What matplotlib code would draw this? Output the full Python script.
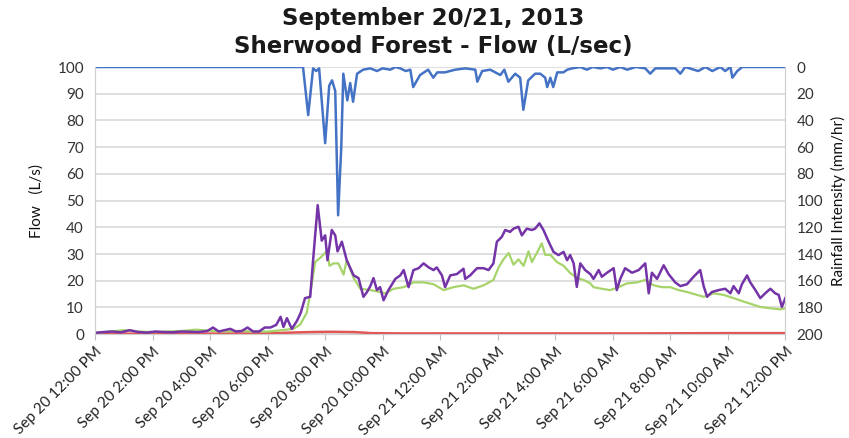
import matplotlib
matplotlib.use("Agg")
import matplotlib.pyplot as plt
import numpy as np

plt.rcParams.update({"font.family": "Lato", "font.size": 11})

# hours after Sep 20 12:00 PM
tick_hours = list(range(0, 25, 2))
tick_labels = ["Sep 20 12:00 PM", "Sep 20 2:00 PM", "Sep 20 4:00 PM", "Sep 20 6:00 PM",
               "Sep 20 8:00 PM", "Sep 20 10:00 PM", "Sep 21 12:00 AM", "Sep 21 2:00 AM",
               "Sep 21 4:00 AM", "Sep 21 6:00 AM", "Sep 21 8:00 AM", "Sep 21 10:00 AM",
               "Sep 21 12:00 PM"]

# purple flow series (L/s)
t_purple = [0, 0.3, 0.6, 0.9, 1.2, 1.5, 1.8, 2.1, 2.4, 2.7, 3.0, 3.3, 3.6, 3.9, 4.1, 4.3,
            4.5, 4.7, 4.9, 5.1, 5.3, 5.5, 5.7, 5.9, 6.1, 6.3, 6.45, 6.55, 6.67, 6.84, 7.02,
            7.15, 7.30, 7.48, 7.59, 7.74, 7.88, 8.0, 8.08, 8.23, 8.35, 8.43, 8.58, 8.75,
            8.99, 9.16, 9.33, 9.45, 9.57, 9.68, 9.80, 9.91, 10.03, 10.20, 10.44, 10.61,
            10.73, 10.90, 11.07, 11.25, 11.42, 11.60, 11.77, 11.88, 12.06, 12.17, 12.35,
            12.58, 12.81, 12.87, 13.04, 13.28, 13.51, 13.68, 13.85, 13.97, 14.14, 14.26,
            14.43, 14.55, 14.72, 14.84, 15.01, 15.19, 15.30, 15.45, 15.59, 15.77, 15.94,
            16.11, 16.29, 16.41, 16.52, 16.64, 16.75, 16.87, 17.04, 17.22, 17.33, 17.51,
            17.62, 17.80, 18.03, 18.14, 18.26, 18.43, 18.67, 18.90, 19.13, 19.25, 19.36,
            19.54, 19.77, 19.94, 20.17, 20.35, 20.58, 20.81, 21.04, 21.16, 21.28, 21.45,
            21.68, 21.91, 22.09, 22.20, 22.38, 22.49, 22.67, 22.78, 22.96, 23.13, 23.30,
            23.48, 23.65, 23.77, 23.88, 24.0]
v_purple = [0.5, 0.8, 1.0, 0.7, 1.5, 0.8, 0.6, 1.0, 0.8, 0.7, 1.0, 0.9, 0.8, 1.2, 2.5, 1.0,
            1.5, 2.0, 1.0, 1.2, 2.5, 1.0, 1.0, 2.5, 2.5, 3.5, 6.5, 2.7, 6.0, 2.0, 5.0,
            8.0, 13.5, 14.0, 29.0, 48.3, 35.0, 37.0, 27.7, 39.0, 37.0, 31.0, 34.6, 27.7,
            22.0, 21.0, 14.0, 15.7, 18.0, 21.0, 16.5, 17.6, 12.7, 16.5, 20.7, 22.0,
            24.0, 17.6, 24.0, 24.7, 26.5, 25.0, 24.0, 25.0, 22.0, 17.6, 22.0,
            22.5, 24.5, 20.7, 22.0, 24.7, 24.7, 24.0, 26.5, 34.6, 36.4, 39.0,
            38.3, 39.5, 40.2, 37.0, 39.5, 39.0, 39.5, 41.5, 39.0, 34.6, 30.8,
            29.6, 30.8, 27.7, 29.6, 26.5, 17.7, 26.5, 24.0, 22.5, 20.7, 24.0,
            21.5, 23.0, 24.7, 16.5, 20.7, 24.7, 23.0, 24.0, 26.5, 15.3, 23.0,
            20.7, 25.8, 22.5, 19.4, 18.0, 18.7, 21.5, 24.0, 18.0, 14.0, 15.8,
            16.5, 17.0, 15.3, 18.0, 15.3, 18.7, 22.0, 19.4, 16.5, 13.5, 15.3,
            17.0, 15.3, 14.7, 10.2, 13.5]

# green flow series (L/s)
t_green = [0, 0.5, 1.0, 1.5, 2.0, 2.5, 3.0, 3.5, 4.0, 4.5, 5.0, 5.5, 6.0, 6.5, 6.90, 7.13,
           7.36, 7.54, 7.65, 7.83, 7.94, 8.06, 8.15, 8.29, 8.46, 8.64, 8.75, 8.99, 9.22,
           9.57, 9.91, 10.09, 10.38, 10.73, 11.07, 11.42, 11.77, 12.12, 12.46, 12.81,
           13.16, 13.51, 13.85, 14.03, 14.20, 14.38, 14.55, 14.72, 14.90, 15.07, 15.19,
           15.36, 15.53, 15.65, 15.83, 16.06, 16.29, 16.52, 16.76, 16.99, 17.22, 17.33,
           17.62, 17.91, 18.20, 18.49, 18.84, 19.13, 19.42, 19.71, 20.0, 20.29, 20.58,
           20.93, 21.16, 21.51, 21.86, 22.20, 22.55, 22.90, 23.13, 23.48, 23.83, 24.0]
v_green = [0.5, 1.0, 1.5, 1.0, 0.8, 1.0, 1.2, 1.7, 1.3, 1.0, 1.2, 1.0, 1.0, 1.5, 2.0, 3.6,
           8.0, 19.0, 27.0, 28.6, 29.8, 31.0, 25.6, 26.5, 26.5, 22.3, 27.7, 21.0, 17.0,
           16.5, 15.8, 15.3, 17.0, 17.6, 19.4, 19.4, 18.7, 16.5, 17.6, 18.3,
           17.0, 18.3, 20.3, 25.0, 28.0, 30.4, 26.0, 28.0, 25.6, 31.0, 27.0,
           30.4, 34.0, 29.7, 29.7, 27.0, 25.6, 22.9, 21.0, 20.3, 19.0, 17.6,
           17.0, 16.5, 17.6, 19.0, 19.4, 20.3, 18.3, 17.6, 17.6, 16.5, 15.8,
           14.7, 14.0, 15.3, 14.7, 13.5, 12.2, 11.0, 10.2, 9.7, 9.3, 9.7]

# red flow series (L/s)
t_red = [0, 3.0, 6.0, 6.8, 7.5, 8.2, 9.0, 9.6, 10.5, 14.0, 19.0, 22.0, 23.0, 24.0]
v_red = [0.2, 0.2, 0.3, 0.6, 0.8, 0.9, 0.8, 0.4, 0.3, 0.3, 0.3, 0.4, 0.4, 0.4]

# blue rainfall intensity (mm/hr, right axis, inverted)
t_rain = [0, 7.23, 7.41, 7.58, 7.69, 7.79, 8.0, 8.14, 8.24, 8.35, 8.45, 8.56, 8.63, 8.77,
          8.87, 8.97, 9.11, 9.32, 9.57, 9.8, 10.0, 10.26, 10.45, 10.61, 10.8, 10.96, 11.06,
          11.30, 11.58, 11.76, 11.90, 12.17, 12.52, 12.87, 13.22, 13.29, 13.46, 13.74,
          14.09, 14.23, 14.37, 14.61, 14.78, 14.89, 15.06, 15.30, 15.48, 15.65, 15.72,
          15.83, 15.93, 16.07, 16.28, 16.42, 16.59, 16.87, 17.1, 17.3, 17.57, 17.8, 18.0,
          18.26, 18.5, 18.8, 19.13, 19.30, 19.48, 20.17, 20.35, 20.52, 20.97, 21.22,
          21.46, 21.74, 21.91, 22.09, 22.16, 22.33, 22.50, 24.0]
v_rain = [0, 0, 36, 1, 3, 1, 57, 14, 10, 18, 111, 60, 5, 25,
          12, 26, 5, 2, 1, 3, 1, 2, 0, 1, 3, 2, 15,
          6, 2, 8, 4, 4, 2, 1, 2, 11, 3, 2,
          6, 2, 11, 5, 8, 32, 10, 5, 5, 8, 15,
          8, 15, 4, 4, 2, 1, 0, 2, 0, 1, 0, 2,
          0, 2, 0, 1, 5, 1, 1, 5, 0, 3, 0,
          3, 0, 3, 0, 8, 3, 0, 0]

fig = plt.figure(figsize=(8.49, 4.38), dpi=100)
ax = fig.add_axes([0.112, 0.237, 0.813, 0.61])
ax.plot(t_red, v_red, color="#e05555", lw=1.8, zorder=3)
ax.plot(t_green, v_green, color="#a6d46a", lw=1.6, zorder=4)
ax.plot(t_purple, v_purple, color="#7434a8", lw=1.8, zorder=5)
ax.set_xlim(0, 24)
ax.set_ylim(0, 100)
ax.set_yticks(range(0, 101, 10))
ax.set_xticks(tick_hours)
ax.set_xticklabels(tick_labels, rotation=45, ha="right", rotation_mode="anchor")
ax.grid(axis="y", color="#dcdcdc", lw=1.3)
ax.set_axisbelow(True)
ax.spines["top"].set_visible(False)
for s in ["left", "right", "bottom"]:
    ax.spines[s].set_color("#d0d0d0")
ax.tick_params(axis="y", length=0, colors="#333333", labelsize=11, pad=8)
ax.tick_params(axis="x", length=4, color="#c0c0c0", colors="#222222", labelsize=11)
ax.set_ylabel("Flow   (L/s)", fontsize=11, color="#111111", labelpad=10)

ax2 = ax.twinx()
ax2.plot(t_rain, v_rain, color="#4472c4", lw=1.8)
ax2.set_ylim(200, 0)
ax2.set_yticks(range(0, 201, 20))
ax2.tick_params(axis="y", length=0, colors="#333333", labelsize=11, pad=8)
ax2.spines["top"].set_visible(False)
for s in ["left", "right", "bottom"]:
    ax2.spines[s].set_color("#d0d0d0")
ax2.set_ylabel("Rainfall Intensity (mm/hr)", fontsize=11, color="#111111", labelpad=6)

fig.text(0.51, 0.958, "September 20/21, 2013", ha="center", va="center",
         fontsize=16.5, fontweight="bold", color="#1a1a1a", family="DejaVu Sans")
fig.text(0.51, 0.893, "Sherwood Forest - Flow (L/sec)", ha="center", va="center",
         fontsize=16.5, fontweight="bold", color="#1a1a1a", family="DejaVu Sans")

fig.savefig("out.png", dpi=100)
